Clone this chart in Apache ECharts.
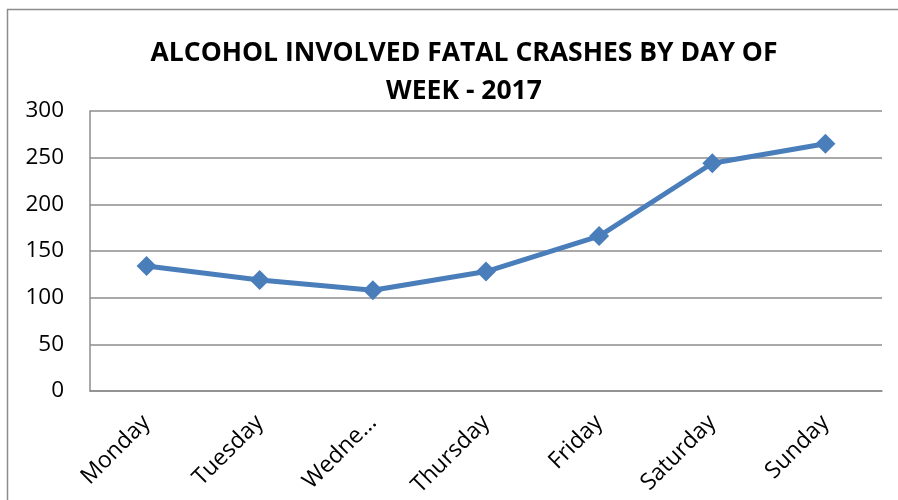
<!DOCTYPE html>
<html>
<head>
<meta charset="utf-8">
<script src="https://cdn.jsdelivr.net/npm/echarts@6/dist/echarts.min.js"></script>
<style>
  html, body { margin: 0; padding: 0; background: #fff; }
  #chart { width: 898px; height: 500px; }
</style>
</head>
<body>
<div id="chart"></div>
<script>
const days = ['Monday', 'Tuesday', 'Wedne...', 'Thursday', 'Friday', 'Saturday', 'Sunday'];
const crashes = [134, 119, 108, 128, 166, 244, 265];
const yTicks = [0, 50, 100, 150, 200, 250, 300];

const chart = echarts.init(document.getElementById('chart'));

const option = {
    backgroundColor: '#fff',
    animation: false,
    title: {
        text: 'ALCOHOL INVOLVED FATAL CRASHES BY DAY OF\nWEEK - 2017',
        left: 459,
        top: 29,
        textAlign: 'center',
        textStyle: {
            fontFamily: 'Open Sans',
            fontWeight: 'bold',
            fontSize: 26.5,
            lineHeight: 38,
            color: '#000'
        }
    },
    graphic: [{
        type: 'rect',
        shape: { x: 7.5, y: 9.5, width: 1000, height: 600 },
        style: { fill: 'none', stroke: '#8c8c8c', lineWidth: 1.5 },
        silent: true
    }],
    grid: { left: 90, right: 16, top: 111, bottom: 109 },
    xAxis: {
        type: 'category',
        data: days,
        boundaryGap: true,
        axisLine: { show: true, lineStyle: { color: '#8c8c8c', width: 1.5 } },
        axisTick: { show: false },
        axisLabel: {
            rotate: 45,
            interval: 0,
            margin: 28,
            fontFamily: 'Open Sans',
            fontSize: 23,
            color: '#000'
        }
    },
    yAxis: {
        type: 'value',
        min: yTicks[0],
        max: yTicks[yTicks.length - 1],
        interval: 50,
        axisLine: { show: true, lineStyle: { color: '#8c8c8c', width: 1.5 } },
        axisTick: { show: false },
        splitLine: { show: true, lineStyle: { color: '#8c8c8c', width: 1.5 } },
        axisLabel: {
            margin: 26,
            fontFamily: 'Open Sans',
            fontSize: 22.5,
            color: '#000'
        }
    },
    series: [{
        type: 'line',
        data: crashes,
        symbol: 'diamond',
        symbolSize: 20,
        lineStyle: { color: '#4a7ebb', width: 5 },
        itemStyle: { color: '#4a7ebb' }
    }]
};

chart.setOption(option);
</script>
</body>
</html>
